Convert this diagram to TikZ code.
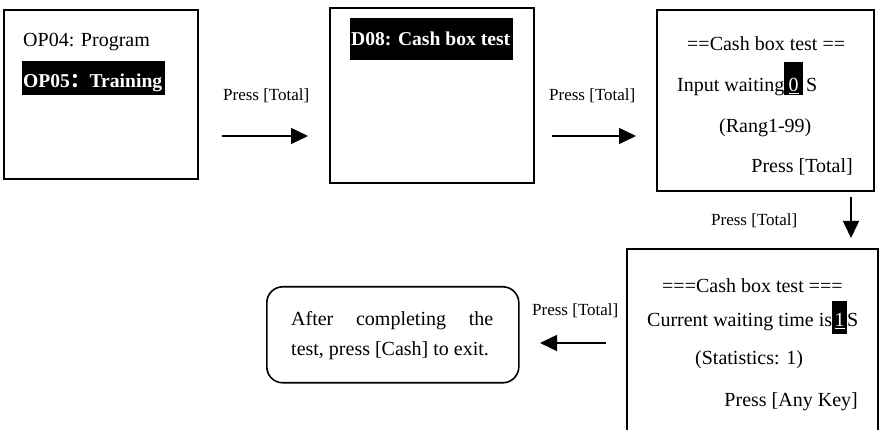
\documentclass[tikz,border=0pt]{standalone}
\usepackage{fontspec}
\setmainfont{Liberation Serif}
\newfontfamily\cjk{Noto Sans CJK SC}
\usetikzlibrary{arrows.meta}
\begin{document}
\begin{tikzpicture}[x=1pt,y=-1pt,
  screen/.style={draw, line width=1.6pt, inner sep=0pt, anchor=north west},
  hl/.style={fill=black, inner sep=0pt, anchor=north west},
  txt/.style={inner sep=0pt, font=\fontsize{20}{24}\selectfont, anchor=base west},
  inv/.style={txt, text=white, font=\fontsize{19.6}{24}\selectfont\bfseries},
  lbl/.style={inner sep=0pt, font=\fontsize{17}{20}\selectfont, anchor=base west},
  flow/.style={line width=1.5pt, -{Triangle[length=17pt,width=16pt]}}]
\useasboundingbox (0,0) rectangle (879,430);

% Screen 1
\node[screen, minimum width=194pt, minimum height=169pt] (s1) at (3,9) {};
\node[txt] (s1a) at (23,47) {OP04: Program};
\node[hl, minimum width=143pt, minimum height=34pt] (s1h) at (22,61) {};
\node[inv] (s1b) at (23,88) {OP05{\cjk ：}Training};

% Screen 2
\node[screen, minimum width=204pt, minimum height=175pt] (s2) at (329,7) {};
\node[hl, minimum width=163pt, minimum height=42pt] (s2h) at (350,18) {};
\node[inv] (s2a) at (351,46) {D08: Cash box test};

% Screen 3
\node[screen, minimum width=217pt, minimum height=181pt] (s3) at (656,9) {};
\node[txt] (s3a) at (687,51) {==Cash box test ==};
\node[txt] (s3b) at (677,92) {Input waiting};
\node[hl, minimum width=19pt, minimum height=33pt] (s3h) at (784,62) {};
\node[txt, anchor=base, text=white] (s3z) at (793.5,92) {\underline{0}};
\node[txt] (s3s) at (806,92) {S};
\node[txt] (s3c) at (719,133) {(Rang1-99)};
\node[txt, anchor=base east] (s3d) at (853,173) {Press [Total]};

% Screen 4 (cut off at the bottom)
\begin{scope}
\clip (0,0) rectangle (879,430);
\node[screen, minimum width=251pt, minimum height=200pt] (s4) at (626,248) {};
\end{scope}
\node[txt] (s4a) at (662,293) {===Cash box test ===};
\node[txt] (s4b) at (647,327) {Current waiting time is};
\node[hl, minimum width=15pt, minimum height=33pt] (s4h) at (832,301) {};
\node[txt, anchor=base, text=white] (s4o) at (839.5,327) {\underline{1}};
\node[txt] (s4s) at (847,327) {S};
\node[txt] (s4c) at (695,365) {(Statistics: 1)};
\node[txt, anchor=base east] (s4d) at (858,407) {Press [Any Key]};

% Final rounded box
\node[draw, line width=1.6pt, rounded corners=16pt, inner sep=0pt,
      minimum width=252pt, minimum height=96pt, anchor=north west] (fin) at (266,286) {};
\node[txt] (fa) at (291,326) {\makebox[202pt][s]{After completing the}};
\node[txt] (fb) at (291,356) {test, press [Cash] to exit.};

% Connectors
\coordinate (a1s) at (222,136); \coordinate (a1e) at (308,136);
\coordinate (a2s) at (552,136); \coordinate (a2e) at (636,136);
\coordinate (a3s) at (851,197); \coordinate (a3e) at (851,238);
\coordinate (a4s) at (606,343); \coordinate (a4e) at (540,343);
\draw[flow] (a1s) -- (a1e);
\draw[flow] (a2s) -- (a2e);
\draw[flow] (a3s) -- (a3e);
\draw[flow] (a4s) -- (a4e);

\node[lbl] (l1) at (223,101) {Press [Total]};
\node[lbl] (l2) at (549,101) {Press [Total]};
\node[lbl] (l3) at (711,226) {Press [Total]};
\node[lbl] (l4) at (532,316) {Press [Total]};
\end{tikzpicture}
\end{document}
